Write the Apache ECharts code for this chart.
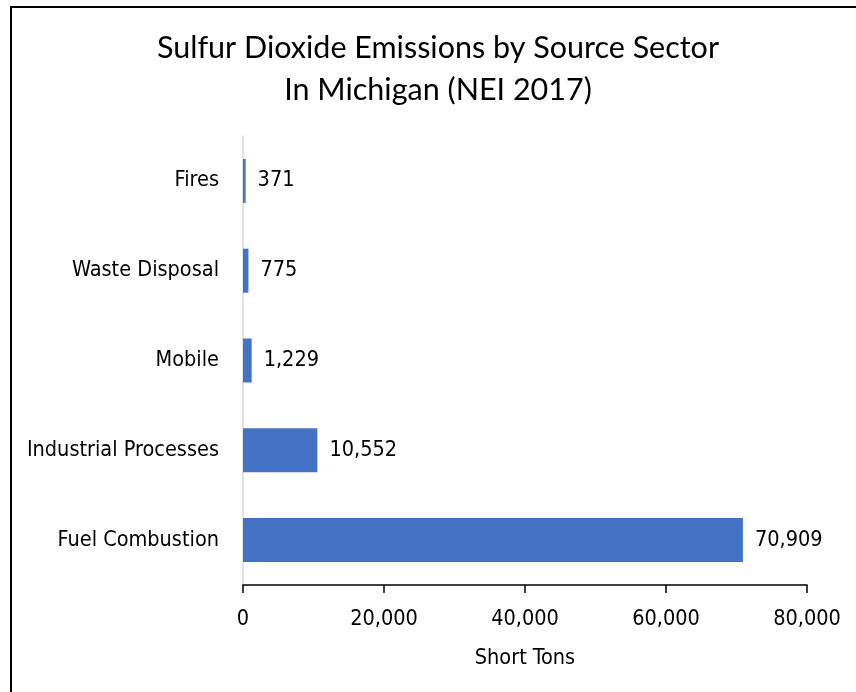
<!DOCTYPE html>
<html>
<head>
<meta charset="utf-8">
<script src="https://cdn.jsdelivr.net/npm/echarts@6/dist/echarts.min.js"></script>
<style>
  html, body { margin: 0; padding: 0; background: #fff; }
  #chart { width: 856px; height: 692px; }
</style>
</head>
<body>
<div id="chart"></div>
<script>
// data, bottom category first (ECharts draws category axis upwards)
const sectors = ['Fuel Combustion', 'Industrial Processes', 'Mobile', 'Waste Disposal', 'Fires']
const tons = [70909, 10552, 1229, 775, 371]
const xTicks = [0, 20000, 40000, 60000, 80000]
const titleLines = ['Sulfur Dioxide Emissions by Source Sector', 'In Michigan (NEI 2017)']

const labelFont = '"Liberation Sans Narrow", "DejaVu Sans Condensed", sans-serif'
const titleFont = 'Lato, "Open Sans", sans-serif'
const fmt = v => v.toLocaleString('en-US')

const chart = echarts.init(document.getElementById('chart'))
chart.setOption({
  animation: false,
  graphic: [
    {
      type: 'rect',
      shape: { x: 11, y: 7, width: 900, height: 800 },
      style: { fill: 'none', stroke: '#000', lineWidth: 2 },
      silent: true
    },
    {
      type: 'text', x: 438, y: 48,
      style: { text: titleLines[0], font: '30.5px ' + titleFont, fill: '#000', align: 'center', verticalAlign: 'middle' }
    },
    {
      type: 'text', x: 438, y: 90,
      style: { text: titleLines[1], font: '30.5px ' + titleFont, fill: '#000', align: 'center', verticalAlign: 'middle' }
    }
  ],
  grid: { left: 243, top: 136, right: 49, bottom: 107 },
  xAxis: {
    type: 'value',
    min: xTicks[0],
    max: xTicks[xTicks.length - 1],
    interval: 20000,
    name: 'Short Tons',
    nameLocation: 'middle',
    nameGap: 62,
    nameTextStyle: { fontFamily: labelFont, fontSize: 21.5, color: '#000' },
    axisLine: { show: true, lineStyle: { color: '#000', width: 1.5 } },
    axisTick: { show: true, length: 8, lineStyle: { color: '#000', width: 1.5 } },
    axisLabel: { fontFamily: labelFont, fontSize: 21.5, color: '#000', margin: 23, formatter: fmt },
    splitLine: { show: false }
  },
  yAxis: {
    type: 'category',
    data: sectors,
    axisLine: { show: true, lineStyle: { color: '#d9d9d9', width: 1.5 } },
    axisTick: { show: false },
    axisLabel: { fontFamily: labelFont, fontSize: 21.5, color: '#000', margin: 24 }
  },
  series: [{
    type: 'bar',
    data: tons,
    barCategoryGap: '51%',
    itemStyle: { color: '#4472c4' },
    label: {
      show: true,
      position: 'right',
      distance: 12,
      fontFamily: labelFont,
      fontSize: 21.5,
      color: '#000',
      formatter: p => fmt(p.value)
    }
  }]
})
</script>
</body>
</html>
